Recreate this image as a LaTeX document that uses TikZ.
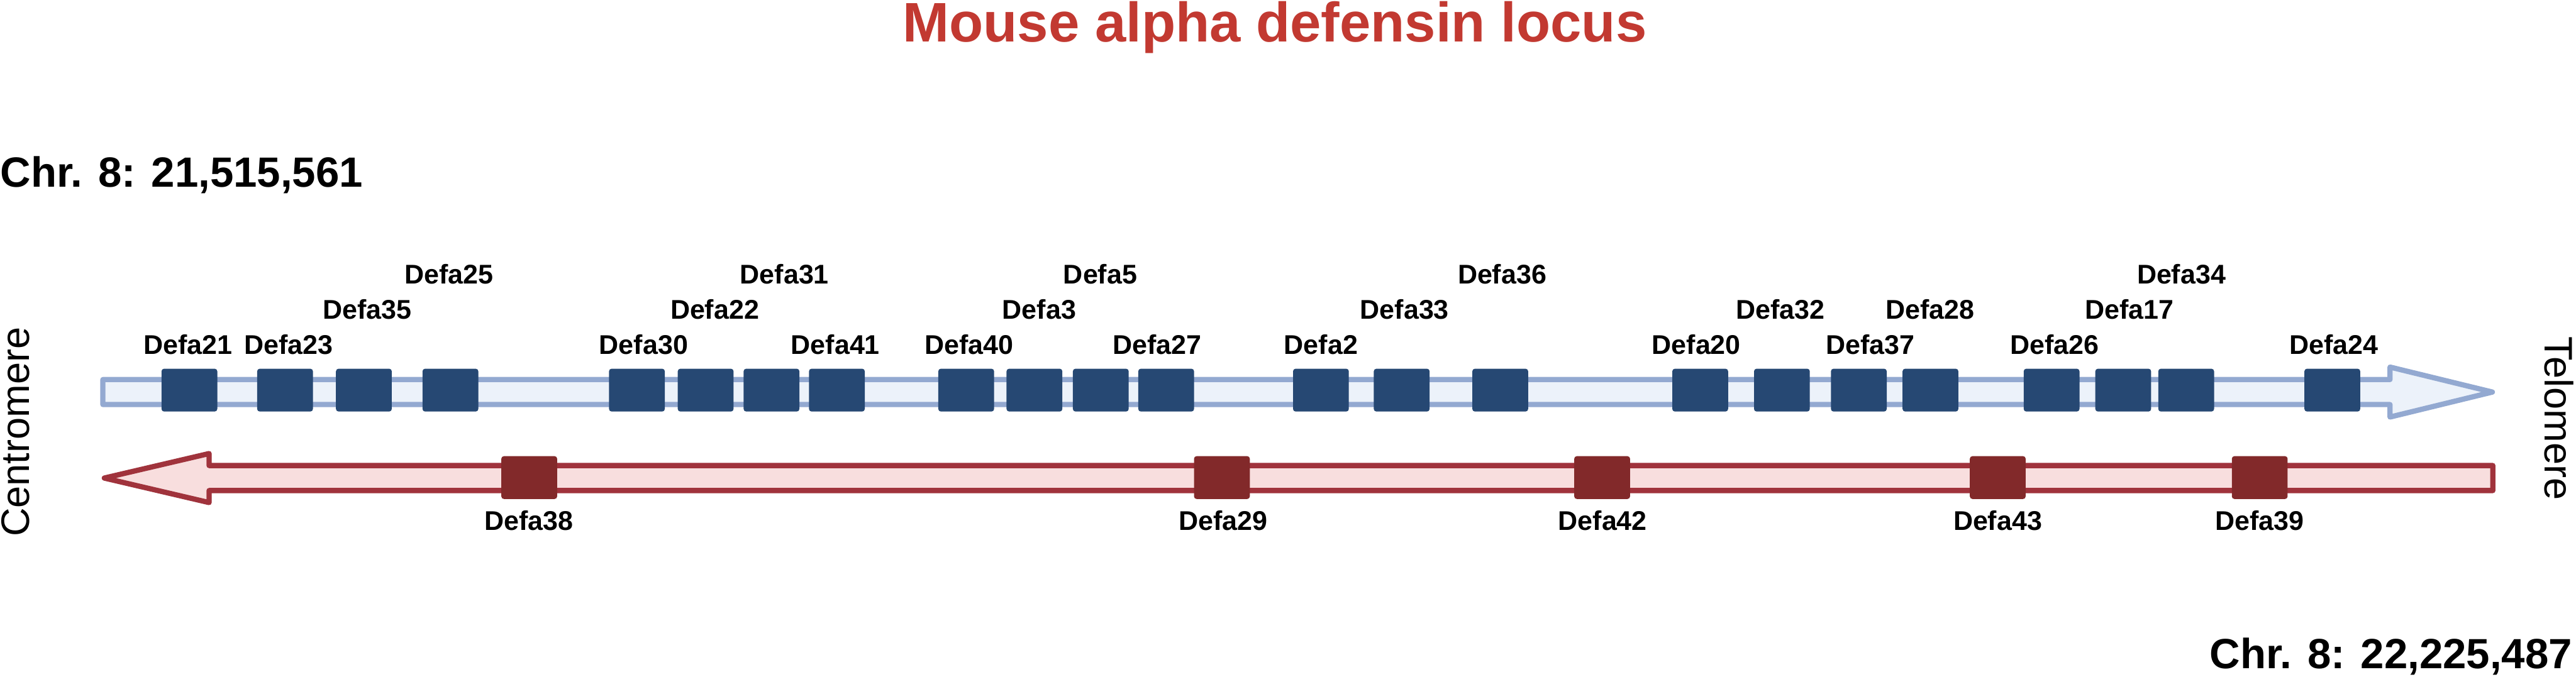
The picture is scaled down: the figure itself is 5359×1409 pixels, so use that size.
\documentclass[tikz,border=0pt]{standalone}
\usepackage{fontspec}
\setmainfont{Liberation Sans}
\definecolor{fwdline}{RGB}{147,169,209}
\definecolor{fwdfill}{RGB}{236,242,250}
\definecolor{fwdgene}{RGB}{38,72,115}
\definecolor{revline}{RGB}{160,51,60}
\definecolor{revfill}{RGB}{248,222,222}
\definecolor{revgene}{RGB}{130,41,42}
\definecolor{titlered}{RGB}{194,57,49}

\begin{document}
\begin{tikzpicture}[x=0.01cm, y=-0.01cm,
  fwdarrow/.style={draw=fwdline, fill=fwdfill, line width=3.1pt, line join=round},
  revarrow/.style={draw=revline, fill=revfill, line width=3.1pt, line join=round},
  fgene/.style={rectangle, fill=fwdgene, minimum width=1.16cm, minimum height=0.89cm, inner sep=0pt, rounded corners=1.5pt},
  rgene/.style={fgene, fill=revgene},
  glabel/.style={anchor=base, inner sep=0pt, font=\bfseries\fontsize{16}{16}\selectfont},
  chrpos/.style={inner sep=0pt, font=\bfseries\fontsize{25}{25}\selectfont},
  side/.style={inner sep=0pt, anchor=base, font=\fontsize{23.5}{23.5}\selectfont}]
\useasboundingbox (0,0) rectangle (5359,1409);

\node[anchor=base, inner sep=0pt, text=titlered, font=\bfseries\fontsize{33}{33}\selectfont] (title) at (2652,87) {Mouse alpha defensin locus};
\node[chrpos, anchor=base west] (start) at (0,389) {Chr. 8: 21,515,561};
\node[chrpos, anchor=base east] (end) at (5352,1392) {Chr. 8: 22,225,487};
\node[side, rotate=90] (cen) at (61,899) {Centromere};
\node[side, rotate=-90] (tel) at (5294,871) {Telomere};

% strands
\draw[fwdarrow] (214,790) -- (4972,790) -- (4972,764) -- (5185,816) -- (4972,868) -- (4972,842) -- (214,842) -- cycle;
\draw[revarrow] (217,995) -- (435,944) -- (435,969) -- (5186,969) -- (5186,1021) -- (435,1021) -- (435,1046) -- cycle;

% genes, forward strand
\node[fgene] (21) at (394,812) {};
\node[fgene] (23) at (593,812) {};
\node[fgene] (35) at (757,812) {};
\node[fgene] (25) at (937,812) {};
\node[fgene] (30) at (1325,812) {};
\node[fgene] (22) at (1468,812) {};
\node[fgene] (31) at (1605,812) {};
\node[fgene] (41) at (1741,812) {};
\node[fgene] (40) at (2010,812) {};
\node[fgene] (3) at (2152,812) {};
\node[fgene] (5) at (2290,812) {};
\node[fgene] (27) at (2426,812) {};
\node[fgene] (2) at (2748,812) {};
\node[fgene] (33) at (2916,812) {};
\node[fgene] (36) at (3121,812) {};
\node[fgene] (20) at (3537,812) {};
\node[fgene] (32) at (3707,812) {};
\node[fgene] (37) at (3867,812) {};
\node[fgene] (28) at (4016,812) {};
\node[fgene] (26) at (4268,812) {};
\node[fgene] (17) at (4417,812) {};
\node[fgene] (34) at (4548,812) {};
\node[fgene] (24) at (4852,812) {};

% genes, reverse strand
\node[rgene] (38) at (1101,994) {};
\node[rgene] (29) at (2542,994) {};
\node[rgene] (42) at (3333,994) {};
\node[rgene] (43) at (4156,994) {};
\node[rgene] (39) at (4701,994) {};

% labels
\node[glabel] (t21) at (391,737) {Defa21};
\node[glabel] (t23) at (600,737) {Defa23};
\node[glabel] (t35) at (764,664) {Defa35};
\node[glabel] (t25) at (934,591) {Defa25};
\node[glabel] (t30) at (1339,737) {Defa30};
\node[glabel] (t22) at (1487,664) {Defa22};
\node[glabel] (t31) at (1632,591) {Defa31};
\node[glabel] (t41) at (1738,737) {Defa41};
\node[glabel] (t40) at (2016,737) {Defa40};
\node[glabel] (t3) at (2162,664) {Defa3};
\node[glabel] (t5) at (2289,591) {Defa5};
\node[glabel] (t27) at (2407,737) {Defa27};
\node[glabel] (t2) at (2748,737) {Defa2};
\node[glabel] (t33) at (2922,664) {Defa33};
\node[glabel] (t36) at (3125,591) {Defa36};
\node[glabel] (t20) at (3529,737) {Defa20};
\node[glabel] (t32) at (3704,664) {Defa32};
\node[glabel] (t37) at (3891,737) {Defa37};
\node[glabel] (t28) at (4015,664) {Defa28};
\node[glabel] (t26) at (4274,737) {Defa26};
\node[glabel] (t17) at (4430,664) {Defa17};
\node[glabel] (t34) at (4538,591) {Defa34};
\node[glabel] (t24) at (4855,737) {Defa24};
\node[glabel] (t38) at (1100,1104) {Defa38};
\node[glabel] (t29) at (2545,1104) {Defa29};
\node[glabel] (t42) at (3334,1104) {Defa42};
\node[glabel] (t43) at (4156,1104) {Defa43};
\node[glabel] (t39) at (4701,1104) {Defa39};
\end{tikzpicture}
\end{document}
